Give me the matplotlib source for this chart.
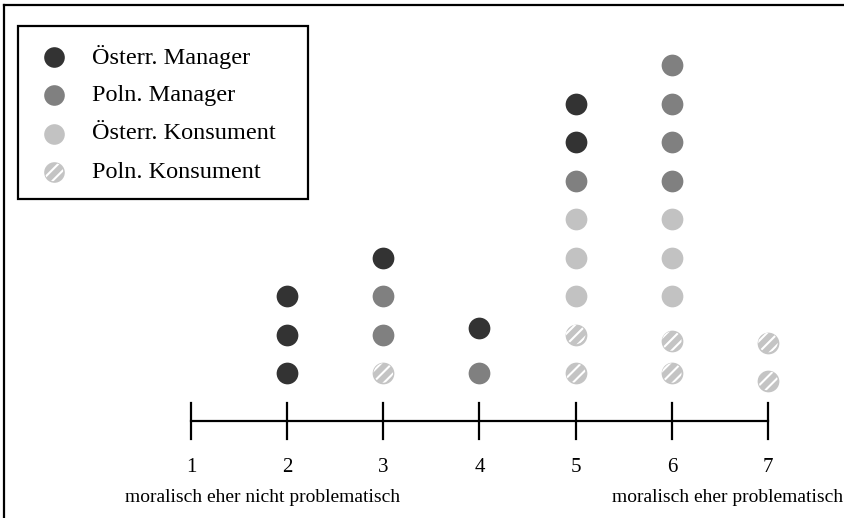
import matplotlib
matplotlib.use('Agg')
import matplotlib.pyplot as plt
from matplotlib.lines import Line2D
from matplotlib.patches import Rectangle

# Categories and colours
categories = ['Österr. Manager', 'Poln. Manager', 'Österr. Konsument', 'Poln. Konsument']
scale_labels = ['1', '2', '3', '4', '5', '6', '7']

# Each dot: score on the 1-7 scale and its stack level in the column
oest_mgr_x = [2, 2, 2, 3, 4, 5, 5]
oest_mgr_lvl = [0, 1, 2, 3, 1.17, 6, 7]
poln_mgr_x = [3, 3, 4, 5, 6, 6, 6, 6]
poln_mgr_lvl = [1, 2, 0, 5, 5, 6, 7, 8]
oest_kons_x = [5, 5, 5, 6, 6, 6]
oest_kons_lvl = [2, 3, 4, 2, 3, 4]
poln_kons_x = [3, 5, 5, 6, 6, 7, 7]
poln_kons_lvl = [0, 0, 1, 0, 0.83, -0.2, 0.79]

plt.rcParams['font.family'] = ['Liberation Serif', 'DejaVu Serif']
plt.rcParams['hatch.color'] = 'white'
plt.rcParams['hatch.linewidth'] = 1.5

W, H = 845, 518
fig = plt.figure(figsize=(W / 100, H / 100), dpi=100)
ax = fig.add_axes([0, 0, 1, 1])

# pixel layout -> data units
x_unit = (768 - 191) / 6.0
y_unit = 38.5
y0_px = 373
ax.set_xlim(1 - 191 / x_unit, 1 + (W - 191) / x_unit)
ax.set_ylim(-(H - y0_px) / y_unit, y0_px / y_unit)
ax.axis('off')

def py(p):
    # pixel row (from top) to data y
    return (y0_px - p) / y_unit

ms = 245

def hatched_dots(x, y, s):
    # grey disc with white diagonal stripes on top
    ax.scatter(x, y, s=s, color='#c4c4c4', linewidths=0, zorder=3)
    ax.scatter(x, y, s=s * 0.8, facecolor='none', edgecolor='white', hatch='///',
               linewidths=0, zorder=4)

ax.scatter(oest_mgr_x, oest_mgr_lvl, s=ms, color='#333333', linewidths=0, zorder=3)
ax.scatter(poln_mgr_x, poln_mgr_lvl, s=ms, color='#808080', linewidths=0, zorder=3)
ax.scatter(oest_kons_x, oest_kons_lvl, s=ms, color='#c2c2c2', linewidths=0, zorder=3)
hatched_dots(poln_kons_x, poln_kons_lvl, ms)

# the scale line with ticks
xs = range(1, 8)
ax.plot([1, 7], [py(421), py(421)], color='black', lw=1.6)
for x, lab in zip(xs, scale_labels):
    ax.plot([x, x], [py(403), py(439)], color='black', lw=1.6)
    ax.text(x, py(467), lab, ha='center', va='center', fontsize=15)

ax.text(1 - 66 / x_unit, py(497), 'moralisch eher nicht problematisch', ha='left', va='center', fontsize=14)
ax.text(7 + 75 / x_unit, py(497), 'moralisch eher problematisch', ha='right', va='center', fontsize=14)

# legend box drawn by hand in pixel positions
def fx(p):
    return p / W

def fy(p):
    return 1 - p / H

fig.patches.append(Rectangle((fx(18), fy(199)), fx(308) - fx(18), fy(26) - fy(199),
                             transform=fig.transFigure, fill=False, lw=1.6, edgecolor='black'))
leg_rows = [57, 95, 134, 172]
leg_colors = ['#333333', '#808080', '#c2c2c2', None]
leg_x = 1 + (54 - 191) / x_unit
for row, lab, c in zip(leg_rows, categories, leg_colors):
    if c is None:
        hatched_dots([leg_x], [py(row)], ms * 0.9)
    else:
        ax.scatter([leg_x], [py(row)], s=ms * 0.9, color=c, linewidths=0, zorder=3)
    fig.text(fx(92), fy(row), lab, ha='left', va='center', fontsize=17.5)

# outer frame (top and left edge visible)
fig.add_artist(Line2D([fx(4), fx(W)], [fy(5), fy(5)], transform=fig.transFigure, color='black', lw=1.6))
fig.add_artist(Line2D([fx(4.5), fx(4.5)], [fy(5), fy(H)], transform=fig.transFigure, color='black', lw=1.6))

fig.savefig('out.png', dpi=100)
